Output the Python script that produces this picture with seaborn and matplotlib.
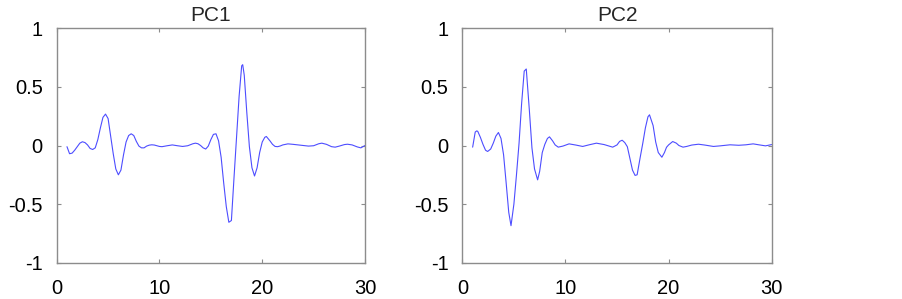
import matplotlib
matplotlib.use("Agg")
import matplotlib.pyplot as plt
import seaborn as sns
import pandas as pd

titles = ["PC1", "PC2"]

pc1_x = [1.0, 1.25, 1.5, 1.75, 2.0, 2.25, 2.5, 2.75, 3.0, 3.25, 3.5, 3.75, 4.0, 4.25, 4.5, 4.75,
         5.0, 5.25, 5.5, 5.75, 6.0, 6.25, 6.5, 6.75, 7.0, 7.25, 7.5, 7.75, 8.0, 8.25, 8.5, 8.75,
         9.0, 9.25, 9.5, 10.0, 10.25, 10.75, 11.25, 11.75, 12.25, 12.75, 13.25, 13.5, 13.75, 14.0,
         14.25, 14.5, 14.75, 15.0, 15.25, 15.5, 15.75, 16.0, 16.25, 16.5, 16.75, 17.0, 17.25, 17.5,
         17.75, 18.0, 18.1, 18.25, 18.5, 18.75, 19.0, 19.25, 19.5, 19.75, 20.0, 20.25, 20.4, 20.75,
         21.0, 21.25, 21.5, 21.75, 22.0, 22.5, 23.0, 23.5, 24.0, 24.5, 25.0, 25.5, 25.8, 26.25,
         26.75, 27.1, 27.5, 28.0, 28.3, 28.75, 29.25, 29.6, 30.0]
pc1_y = [-0.01, -0.07, -0.065, -0.04, -0.01, 0.02, 0.032, 0.025, 0.005, -0.025, -0.034, -0.02,
         0.05, 0.15, 0.24, 0.268, 0.23, 0.08, -0.07, -0.20, -0.25, -0.21, -0.08, 0.03, 0.085, 0.10,
         0.085, 0.035, -0.005, -0.02, -0.02, -0.005, 0.003, 0.006, 0.004, -0.008, -0.01, -0.002,
         0.005, -0.002, -0.008, -0.002, 0.015, 0.02, 0.015, 0.0, -0.02, -0.03, -0.005, 0.05, 0.095,
         0.10, 0.04, -0.10, -0.32, -0.52, -0.655, -0.64, -0.28, 0.07, 0.42, 0.68, 0.69, 0.60, 0.28,
         -0.01, -0.19, -0.26, -0.19, -0.06, 0.03, 0.07, 0.077, 0.04, 0.01, -0.008, -0.01, -0.004,
         0.005, 0.014, 0.01, 0.005, 0.0, -0.005, -0.002, 0.015, 0.02, 0.01, -0.01, -0.014, -0.005,
         0.008, 0.011, 0.005, -0.012, -0.02, 0.0]

pc2_x = [1.0, 1.25, 1.4, 1.5, 1.75, 2.0, 2.25, 2.45, 2.75, 3.0, 3.25, 3.5, 3.75, 4.0, 4.25, 4.5,
         4.72, 5.0, 5.25, 5.5, 5.75, 6.0, 6.2, 6.5, 6.75, 7.0, 7.3, 7.5, 7.75, 8.0, 8.25, 8.45, 8.75,
         9.0, 9.3, 9.75, 10.35, 11.0, 11.67, 12.3, 13.0, 13.75, 14.58, 15.0, 15.25, 15.5, 15.75,
         16.0, 16.25, 16.5, 16.75, 16.95, 17.25, 17.5, 17.75, 18.0, 18.15, 18.5, 18.75, 19.0, 19.35,
         19.6, 19.8, 20.0, 20.4, 20.75, 21.0, 21.4, 21.75, 22.25, 22.9, 23.5, 24.35, 25.0, 25.96,
         26.8, 27.5, 28.2, 28.75, 29.4, 30.0]
pc2_y = [-0.014, 0.115, 0.125, 0.12, 0.07, 0.01, -0.04, -0.051, -0.03, 0.02, 0.08, 0.111, 0.06,
         -0.08, -0.32, -0.57, -0.684, -0.50, -0.25, 0.02, 0.36, 0.635, 0.653, 0.30, -0.02, -0.20,
         -0.293, -0.22, -0.06, 0.01, 0.06, 0.074, 0.04, 0.005, -0.014, -0.005, 0.014, 0.004, -0.008,
         0.006, 0.02, 0.008, -0.014, 0.005, 0.035, 0.045, 0.025, -0.01, -0.11, -0.21, -0.255, -0.25,
         -0.10, 0.02, 0.15, 0.245, 0.262, 0.17, 0.03, -0.06, -0.10, -0.06, -0.015, 0.005, 0.034,
         0.02, 0.0, -0.014, -0.008, 0.004, 0.011, 0.004, -0.008, -0.003, 0.006, 0.002, 0.006, 0.014,
         0.006, -0.003, 0.008]

xticks = [0, 10, 20, 30]
xticklabels = ["0", "10", "20", "30"]
yticks = [-1, -0.5, 0, 0.5, 1]
yticklabels = ["-1", "-0.5", "0", "0.5", "1"]

sns.set_style("white")
plt.rcParams["font.family"] = ["Liberation Sans", "DejaVu Sans"]

fig = plt.figure(figsize=(9.03, 2.99), dpi=100)
positions = [[0.0628, 0.1214, 0.3414, 0.7839], [0.5120, 0.1214, 0.3426, 0.7839]]
datasets = [(pc1_x, pc1_y), (pc2_x, pc2_y)]

for pos, (xs, ys), title in zip(positions, datasets, titles):
    ax = fig.add_axes(pos)
    df = pd.DataFrame({"x": xs, "y": ys})
    sns.lineplot(data=df, x="x", y="y", ax=ax, color="#4d4dff", linewidth=0.8, estimator=None)
    ax.set_xlim(0, 30)
    ax.set_ylim(-1, 1)
    ax.set_xticks(xticks)
    ax.set_xticklabels(xticklabels)
    ax.set_yticks(yticks)
    ax.set_yticklabels(yticklabels)
    ax.set_xlabel("")
    ax.set_ylabel("")
    ax.set_title(title, fontsize=15, pad=5)
    for s in ax.spines.values():
        s.set_visible(True)
        s.set_color("#8c8c8c")
        s.set_linewidth(1.0)
    ax.tick_params(direction="in", length=3, width=0.8, color="#8c8c8c",
                   top=True, right=True, bottom=True, left=True,
                   labelsize=14.5, labelcolor="black")
    ax.tick_params(axis="y", pad=10)
    ax.tick_params(axis="x", pad=12)

fig.savefig("out.png", dpi=100)
